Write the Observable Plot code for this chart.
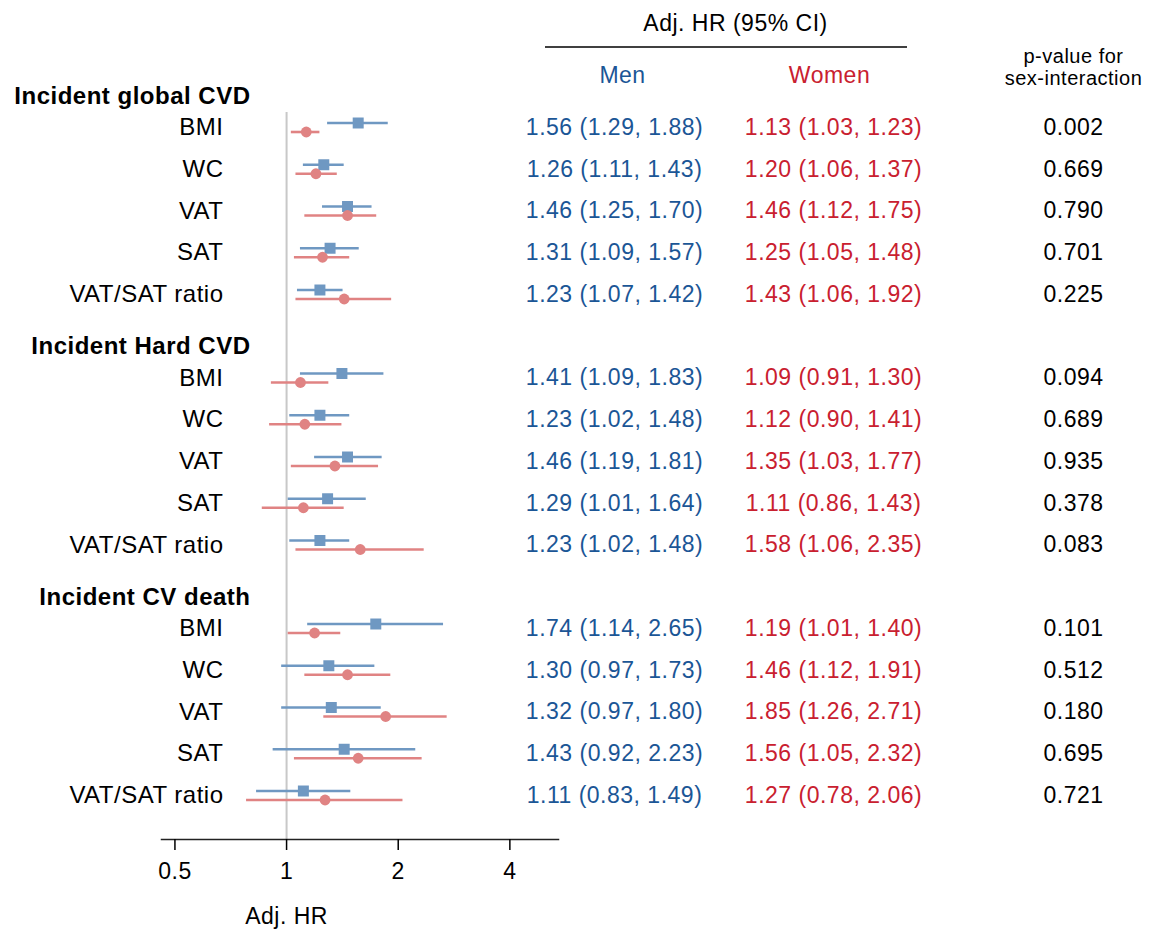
<!DOCTYPE html>
<html><head><meta charset="utf-8">
<script src="https://cdn.jsdelivr.net/npm/d3@7"></script>
<script src="https://cdn.jsdelivr.net/npm/@observablehq/plot@0.6"></script>
<style>
body{margin:0;background:#fff}
#chart svg text{letter-spacing:0.5px}
</style></head><body><div id="chart"></div>
<script>
const groups = ["Incident global CVD", "Incident Hard CVD", "Incident CV death"];
const measures = ["BMI", "WC", "VAT", "SAT", "VAT/SAT ratio"];
const menHR = [1.56, 1.26, 1.46, 1.31, 1.23, 1.41, 1.23, 1.46, 1.29, 1.23, 1.74, 1.30, 1.32, 1.43, 1.11];
const menLo = [1.29, 1.11, 1.25, 1.09, 1.07, 1.09, 1.02, 1.19, 1.01, 1.02, 1.14, 0.97, 0.97, 0.92, 0.83];
const menHi = [1.88, 1.43, 1.70, 1.57, 1.42, 1.83, 1.48, 1.81, 1.64, 1.48, 2.65, 1.73, 1.80, 2.23, 1.49];
const womenHR = [1.13, 1.20, 1.46, 1.25, 1.43, 1.09, 1.12, 1.35, 1.11, 1.58, 1.19, 1.46, 1.85, 1.56, 1.27];
const womenLo = [1.03, 1.06, 1.12, 1.05, 1.06, 0.91, 0.90, 1.03, 0.86, 1.06, 1.01, 1.12, 1.26, 1.05, 0.78];
const womenHi = [1.23, 1.37, 1.75, 1.48, 1.92, 1.30, 1.41, 1.77, 1.43, 2.35, 1.40, 1.91, 2.71, 2.32, 2.06];
const pValues = ["0.002", "0.669", "0.790", "0.701", "0.225", "0.094", "0.689", "0.935", "0.378", "0.083", "0.101", "0.512", "0.180", "0.695", "0.721"];
const xTicks = [0.5, 1, 2, 4];
const xTickLabels = ["0.5", "1", "2", "4"];
const xLabel = "Adj. HR";
const colTitle = "Adj. HR (95% CI)";
const menTitle = "Men";
const womenTitle = "Women";
const pTitle = "p-value for\nsex-interaction";

const menColor = "#6f98c2", womenColor = "#e08383";
const menText = "#1b5696", womenText = "#c9202f";
const fmt = (h, l, u) => `${h.toFixed(2)} (${l.toFixed(2)}, ${u.toFixed(2)})`;

const rows = [];
groups.forEach((g, gi) => measures.forEach((m, mi) => {
  const k = gi * measures.length + mi;
  rows.push({group: g, measure: m, pos: gi * 6 + mi,
    menHR: menHR[k], menLo: menLo[k], menHi: menHi[k],
    womenHR: womenHR[k], womenLo: womenLo[k], womenHi: womenHi[k], p: pValues[k]});
}));
const headers = groups.map((g, gi) => ({group: g, pos: gi * 6 - 0.75}));

const headerLine = (index, scales, values, dims) => {
  const x0 = dims.width - dims.marginRight;
  return d3.create("svg:line")
    .attr("x1", x0 - 13).attr("x2", x0 + 349)
    .attr("y1", dims.marginTop - 65).attr("y2", dims.marginTop - 65)
    .attr("stroke", "#000").attr("stroke-width", 1.6).node();
};

const chart = Plot.plot({
  width: 1154, height: 931,
  marginLeft: 161, marginRight: 596, marginTop: 112, marginBottom: 92,
  x: {type: "log", domain: [0.46, 5.41]},
  y: {domain: [0, 16], range: [127, 795], axis: null},
  style: {fontFamily: "'Liberation Sans', Arial, Helvetica, sans-serif", fontSize: "23px", color: "#000", background: "#fff"},
  marks: [
    Plot.ruleX([1], {stroke: "#c8c8c8", strokeWidth: 2}),
    Plot.frame({anchor: "bottom", stroke: "#222", strokeWidth: 1.5}),
    Plot.axisX({ticks: xTicks, tickFormat: (d) => xTickLabels[xTicks.indexOf(d)], tickSize: 11, tickPadding: 12, fontSize: 23, strokeWidth: 1.5, label: null}),
    Plot.text([{v: 1, t: xLabel}], {x: "v", text: "t", frameAnchor: "bottom", lineAnchor: "middle", dy: 77, fontSize: 23}),
    Plot.ruleY(rows, {y: "pos", x1: "menLo", x2: "menHi", stroke: menColor, strokeWidth: 2.6, dy: -4.5}),
    Plot.dot(rows, {x: "menHR", y: "pos", symbol: "square", r: 6.2, fill: menColor, dy: -4.5}),
    Plot.ruleY(rows, {y: "pos", x1: "womenLo", x2: "womenHi", stroke: womenColor, strokeWidth: 2.6, dy: 4.5}),
    Plot.dot(rows, {x: "womenHR", y: "pos", symbol: "circle", r: 5.4, fill: womenColor, dy: 4.5}),
    Plot.text(headers, {y: "pos", text: "group", frameAnchor: "left", textAnchor: "end", dx: 89, fontWeight: "bold", fontSize: 24}),
    Plot.text(rows, {y: "pos", text: "measure", frameAnchor: "left", textAnchor: "end", dx: 62, fontSize: 24}),
    Plot.text(rows, {y: "pos", text: (d) => fmt(d.menHR, d.menLo, d.menHi), frameAnchor: "right", textAnchor: "middle", dx: 56, fill: menText, fontSize: 23}),
    Plot.text(rows, {y: "pos", text: (d) => fmt(d.womenHR, d.womenLo, d.womenHi), frameAnchor: "right", textAnchor: "middle", dx: 275, fill: womenText, fontSize: 23}),
    Plot.text(rows, {y: "pos", text: "p", frameAnchor: "right", textAnchor: "middle", dx: 515, fontSize: 23}),
    Plot.text([colTitle], {frameAnchor: "top-right", textAnchor: "middle", lineAnchor: "middle", dx: 177, dy: -89, fontSize: 23}),
    headerLine,
    Plot.text([menTitle], {frameAnchor: "top-right", textAnchor: "middle", lineAnchor: "middle", dx: 64, dy: -37, fill: menText, fontSize: 23}),
    Plot.text([womenTitle], {frameAnchor: "top-right", textAnchor: "middle", lineAnchor: "middle", dx: 271, dy: -37, fill: womenText, fontSize: 23}),
    Plot.text([pTitle], {frameAnchor: "top-right", textAnchor: "middle", lineAnchor: "middle", dx: 515, dy: -46, fontSize: 20, lineHeight: 1.1})
  ]
});
document.getElementById("chart").appendChild(chart);
</script></body></html>
